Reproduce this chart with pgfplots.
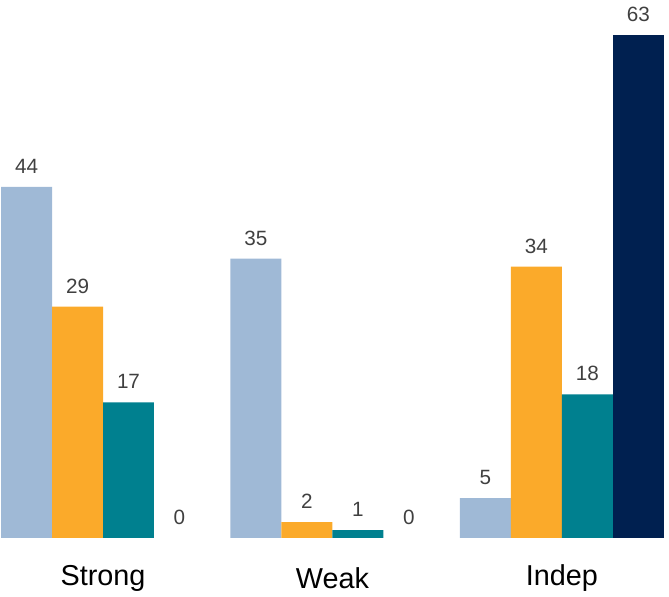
\documentclass[border=0pt]{standalone}
\usepackage{pgfplots}
\pgfplotsset{compat=1.18}
\usepackage{fontspec}
\setmainfont{Liberation Sans}

\definecolor{lightblue}{HTML}{9FB9D6}
\definecolor{orange}{HTML}{FBAA2A}
\definecolor{teal}{HTML}{00808F}
\definecolor{navy}{HTML}{002050}
\definecolor{labelgray}{HTML}{404040}

\begin{document}
\begin{tikzpicture}
\begin{axis}[
  name=ax,
  scale only axis,
  width=501.75pt, height=447pt,
  xmin=-0.02, xmax=13.1,
  ymin=-7.27, ymax=67.42,
  axis line style={draw=none},
  tick style={draw=none},
  ytick=\empty,
  xtick={2,6.5,11},
  xticklabels={Strong,Weak,Indep},
  xticklabel style={anchor=center, yshift=17.5pt, font=\fontsize{21.6}{24}\selectfont, text=black},
  ybar, bar shift=0pt, bar width=1,
  clip=false,
  /pgf/number format/assume math mode=true,
  nodes near coords,
  every node near coord/.append style={anchor=center, yshift=15.5pt,
    font=\fontsize{15.5}{18}\selectfont, text=labelgray},
]
% Share of each group, four series side by side
\addplot[fill=lightblue, draw=none] coordinates {(0.5,44) (5,35) (9.5,5)};
\addplot[fill=orange, draw=none] coordinates {(1.5,29) (6,2) (10.5,34)};
\addplot[fill=teal, draw=none] coordinates {(2.5,17) (7,1) (11.5,18)};
\addplot[fill=navy, draw=none] coordinates {(12.5,63)};
% zero values: label only, no bar
\addplot[fill=none, draw=none] coordinates {(3.5,0) (8,0)};
\end{axis}
\pgfresetboundingbox
\path[use as bounding box] (ax.south west) rectangle (ax.north east);
\end{tikzpicture}
\end{document}
